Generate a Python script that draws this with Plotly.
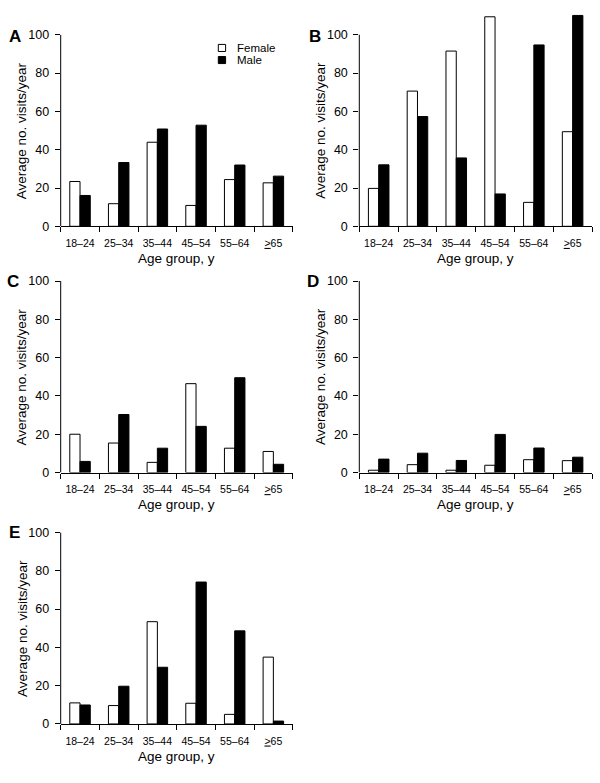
import plotly.graph_objects as go

# ---------------- data ----------------
age_groups = ["18–24", "25–34", "35–44", "45–54", "55–64", "<u>></u>65"]
panel_letters = ["A", "B", "C", "D", "E"]

female_a = [23.4, 11.8, 43.9, 10.9, 24.4, 22.7]
male_a = [16.1, 33.3, 50.8, 52.8, 32.0, 26.2]

female_b = [19.8, 70.6, 91.5, 109.4, 12.5, 49.4]
male_b = [32.1, 57.3, 35.7, 16.9, 94.7, 110.1]

female_c = [20.0, 15.4, 5.3, 46.4, 12.7, 11.0]
male_c = [5.8, 30.3, 12.7, 24.1, 49.5, 4.3]

female_d = [1.2, 4.1, 1.2, 3.8, 6.7, 6.2]
male_d = [7.0, 10.1, 6.3, 19.9, 12.8, 8.0]

female_e = [11.0, 9.6, 53.4, 10.8, 5.0, 34.9]
male_e = [9.9, 19.7, 29.6, 74.1, 48.6, 1.5]

y_ticks = [0, 20, 40, 60, 80, 100]
x_title = "Age group, y"
y_title = "Average no. visits/year"
legend_names = ["Female", "Male"]

females = [female_a, female_b, female_c, female_d, female_e]
males = [male_a, male_b, male_c, male_d, male_e]

# ---------------- layout geometry (pixels) ----------------
W, H = 600, 783
FONT = "Liberation Sans, Arial, Helvetica, sans-serif"
# (x_left, x_right, y_top_at_100, y_bottom_at_0, y_max)
geom = [
    (60.7, 292.7, 28.3, 223.3, 100),
    (359.3, 592.0, 28.3, 223.3, 112),
    (60.7, 292.7, 279.0, 474.0, 100),
    (359.3, 592.0, 279.0, 474.0, 100),
    (60.7, 292.7, 535.0, 730.0, 100),
]
letter_pos = [(7, 30.5), (307, 30.5), (5, 280), (305, 280), (7, 535)]

def px(x):
    return x / W

def py(y):
    return 1 - y / H

fig = go.Figure()
layout = dict(
    width=W, height=H,
    margin=dict(l=0, r=0, t=0, b=0),
    paper_bgcolor="white", plot_bgcolor="white",
    font=dict(family=FONT, color="black"),
    barmode="group", bargap=0.47, bargroupgap=0,
    showlegend=False,
)
shapes = []
annotations = []
xs = list(range(len(age_groups)))

for i, (fem, mal) in enumerate(zip(females, males)):
    sfx = "" if i == 0 else str(i + 1)
    x0, x1, ytop, ybot, ymax = geom[i]
    pxl_per_unit = (ybot - ytop) / 100.0
    top_pixel = ybot - ymax * pxl_per_unit

    fig.add_trace(go.Bar(x=xs, y=fem, name=legend_names[0], xaxis="x" + sfx, yaxis="y" + sfx,
                         marker=dict(color="white", line=dict(color="black", width=1)),
                         offsetgroup="f"))
    fig.add_trace(go.Bar(x=xs, y=mal, name=legend_names[1], xaxis="x" + sfx, yaxis="y" + sfx,
                         marker=dict(color="black", line=dict(color="black", width=1)),
                         offsetgroup="m"))

    layout["xaxis" + sfx] = dict(
        domain=[px(x0), px(x1)], anchor="y" + sfx,
        range=[-0.5, len(age_groups) - 0.5],
        tickmode="array", tickvals=xs, ticktext=age_groups,
        ticks="outside", ticklen=0, tickfont=dict(size=10.5),
        ticklabelstandoff=7,
        showline=True, linecolor="black", linewidth=1,
        showgrid=False, zeroline=False, fixedrange=True,
        minor=dict(tickmode="array", tickvals=[v - 0.5 for v in range(len(age_groups) + 1)],
                   ticks="outside", ticklen=5, tickwidth=1, tickcolor="black", showgrid=False),
    )
    layout["yaxis" + sfx] = dict(
        domain=[py(ybot), py(top_pixel)], anchor="x" + sfx,
        range=[0, ymax],
        tickmode="array", tickvals=y_ticks,
        ticks="outside", ticklen=5, tickwidth=1, tickcolor="black",
        tickfont=dict(size=12.5), ticklabelstandoff=3,
        showline=False, showgrid=False, zeroline=False, fixedrange=True,
    )
    # y axis line from 0 to 100
    shapes.append(dict(type="line", xref="x" + sfx + " domain", yref="y" + sfx,
                       x0=0, x1=0, y0=0, y1=100, line=dict(color="black", width=1)))
    # axis titles
    annotations.append(dict(text=x_title, xref="paper", yref="paper",
                            x=px((x0 + x1) / 2), y=py(ybot + 33), showarrow=False,
                            xanchor="center", yanchor="middle", font=dict(size=13.5)))
    annotations.append(dict(text=y_title, xref="paper", yref="paper",
                            x=px(x0 - 39), y=py((ytop + ybot) / 2), showarrow=False,
                            textangle=-90, xanchor="center", yanchor="middle", font=dict(size=13.5)))
    lx, ly = letter_pos[i]
    annotations.append(dict(text="<b>" + panel_letters[i] + "</b>", xref="paper", yref="paper",
                            x=px(lx), y=py(ly), showarrow=False, xanchor="left", yanchor="middle",
                            font=dict(size=17)))

# legend (panel A)
leg_rows = [(41.7, "white"), (54.0, "black")]
for (cy, col), name in zip(leg_rows, legend_names):
    shapes.append(dict(type="rect", xref="paper", yref="paper",
                       x0=px(218.3), x1=px(225.6), y0=py(cy + 3.6), y1=py(cy - 3.6),
                       fillcolor=col, line=dict(color="black", width=1)))
    annotations.append(dict(text=name, xref="paper", yref="paper", x=px(235.5), y=py(cy),
                            showarrow=False, xanchor="left", yanchor="middle",
                            borderpad=0, font=dict(size=11.5)))

layout["shapes"] = shapes
layout["annotations"] = annotations
fig.update_layout(**layout)
fig.write_html("out.html")
